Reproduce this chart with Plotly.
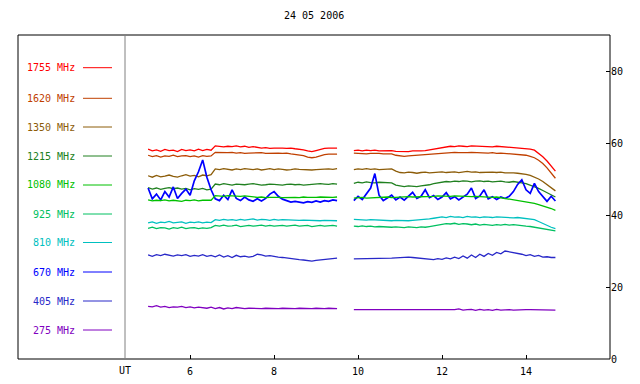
import plotly.graph_objects as go

TITLE = "24 05 2006"
FREQ_LABELS = ["1755 MHz", "1620 MHz", "1350 MHz", "1215 MHz", "1080 MHz",
               "925 MHz", "810 MHz", "670 MHz", "405 MHz", "275 MHz"]
COLORS = ["#ff0000", "#c04000", "#8c5c08", "#208020", "#00c000",
          "#00c060", "#00c0c0", "#0000ff", "#2828c8", "#8000c0"]

SEG1_START = 5.0
SEG2_START = 9.9
STEP = 0.1

# segment 1 (5.0 .. 9.5 UT), segment 2 (9.9 .. 14.7 UT)
f1755_a = [58.3, 57.8, 58.1, 57.7, 58.2, 57.9, 58.0, 57.6, 58.2, 57.9, 58.1, 57.8, 58.3, 57.9, 58.2, 58.0,
           59.2, 59.0, 58.9, 59.1, 59.0, 59.2, 58.9, 59.1, 58.8, 59.0, 58.7, 58.6, 58.7, 58.5, 58.6, 58.7,
           58.6, 58.5, 58.6, 58.4, 58.3, 58.1, 57.8, 57.6, 57.9, 58.3, 58.5, 58.6, 58.5, 58.6]
f1755_b = [57.9, 58.0, 57.8, 58.0, 57.9, 58.0, 57.8, 57.9, 58.0, 57.9, 57.7, 57.6, 57.7, 57.6, 57.8, 57.7,
           57.8, 57.9, 58.1, 58.3, 58.5, 58.7, 58.9, 59.1, 59.0, 59.2, 59.1, 59.0, 59.2, 59.1, 59.0, 59.1,
           59.0, 58.9, 59.1, 59.0, 58.9, 59.0, 58.9, 58.8, 58.7, 58.6, 58.3, 58.0, 57.2, 56.2, 55.0, 53.5, 52.2]

f1620_a = [56.6, 56.2, 56.5, 56.1, 56.4, 56.3, 56.6, 56.2, 56.4, 56.5, 56.2, 56.4, 56.1, 56.5, 56.3, 56.4,
           57.4, 57.3, 57.2, 57.3, 57.4, 57.2, 57.3, 57.1, 57.2, 57.3, 57.2, 57.3, 57.1, 57.2, 57.3, 57.2,
           57.1, 57.2, 57.0, 56.9, 56.7, 56.5, 56.1, 55.9, 56.1, 56.5, 56.8, 56.9, 57.0, 56.9]
f1620_b = [57.2, 57.1, 57.2, 57.0, 57.1, 57.2, 57.1, 57.0, 57.1, 57.0,
           56.6, 56.4, 56.3, 56.4, 56.5, 56.4, 56.5, 56.6, 56.7,
           56.9, 57.0, 57.2,
           57.3, 57.2, 57.4, 57.3, 57.2, 57.3, 57.4, 57.3, 57.2, 57.3,
           57.2, 57.3, 57.1, 57.2, 57.1, 57.0, 57.1, 56.9, 56.8,
           56.6, 56.3, 55.9, 55.2, 54.3, 53.1, 51.7, 50.2]

f1350_a = [50.9, 50.5, 51.0, 50.6, 50.8, 51.1, 50.7, 50.5, 50.9, 51.2, 50.8, 51.0, 50.6, 51.1, 50.9, 51.2,
           52.8, 52.6, 52.9, 52.7, 52.5, 52.8, 52.6, 52.9, 52.7, 52.6, 52.8, 52.5, 52.7, 52.9, 52.6, 52.8,
           52.7, 52.5, 52.6, 52.8, 52.7, 52.6, 52.4, 52.5, 52.6, 52.7, 52.9, 52.8, 52.7, 52.9]
f1350_b = [52.6, 52.8, 52.7, 52.9, 52.7, 52.8, 52.6, 52.7, 52.9, 52.8,
           52.2, 51.8, 51.7, 51.9, 51.8, 51.6, 51.8, 51.9, 51.7, 51.8, 51.9, 52.0, 51.8, 51.9, 52.0, 51.8,
           51.9, 52.1, 51.9, 52.0, 51.8, 51.9, 52.0, 51.9, 51.8, 51.9, 51.7, 51.8, 51.7, 51.6, 51.5,
           51.3, 51.0, 50.6, 50.0, 49.3, 48.5, 47.6, 46.7]

f1215_a = [47.6, 47.2, 47.5, 47.1, 47.4, 47.6, 47.3, 47.5, 47.2, 47.4, 47.0, 47.3, 47.1, 47.4, 47.0, 47.2,
           48.6, 48.4, 48.7, 48.5, 48.3, 48.6, 48.5, 48.4, 48.6, 48.7, 48.5, 48.3, 48.4, 48.6, 48.5, 48.4,
           48.3, 48.5, 48.6, 48.4, 48.5, 48.3, 48.4, 48.6, 48.5, 48.7, 48.6, 48.5, 48.7, 48.6]
f1215_b = [48.8, 49.1, 48.9, 49.2, 49.0, 48.9, 49.1, 49.0, 48.8, 48.9,
           48.3, 48.0, 47.9, 48.1, 48.0, 47.9, 48.1, 48.2, 48.4,
           48.7, 48.9, 49.1, 49.3, 49.2, 49.4, 49.3, 49.5, 49.4, 49.2, 49.4, 49.5, 49.3, 49.4, 49.2, 49.3,
           49.4, 49.2, 49.1, 49.3, 49.0, 48.9,
           48.7, 48.3, 47.9, 47.4, 46.8, 46.2, 45.6, 45.0]

f1080_a = [44.2, 43.9, 44.1, 44.0, 44.2, 43.9, 44.1, 44.0, 43.8, 44.1, 44.0, 44.2, 43.9, 44.1, 44.0, 44.1,
           45.4, 45.3, 45.2, 45.4, 45.3, 45.1, 45.2, 45.3, 45.1, 45.0, 44.9, 45.0, 44.8, 44.9, 45.0, 44.9,
           44.8, 44.9, 45.0, 44.9, 44.8, 45.0, 44.9, 44.8, 44.9, 45.0, 44.9, 45.0, 44.9, 45.0]
f1080_b = [44.7, 44.8, 44.9, 44.7, 44.8, 44.9, 44.8, 44.9, 45.0, 44.8, 44.9, 45.0, 44.9, 45.1, 45.0, 45.0,
           45.1, 45.2, 45.1, 45.2, 45.3, 45.2, 45.3, 45.2, 45.3, 45.2, 45.3, 45.2, 45.1, 45.2, 45.1, 45.0,
           45.1, 44.9, 45.0, 44.8, 44.7, 44.6,
           44.4, 44.2, 44.0, 43.7, 43.5, 43.2, 42.9, 42.6, 42.2, 41.8, 41.3]

f925_a = [36.3, 36.6, 36.2, 36.5, 36.4, 36.1, 36.5, 36.3, 36.6, 36.2, 36.4, 36.5, 36.2, 36.4, 36.3, 36.5,
          37.1, 36.9, 37.2, 36.9, 37.0, 37.2, 36.8, 37.0, 37.1, 36.9, 37.0, 37.2, 36.9, 37.1, 36.9, 37.0,
          37.1, 36.9, 37.0, 37.2, 36.9, 37.0, 37.1, 36.8, 37.0, 37.1, 36.9, 37.0, 37.1, 36.9]
f925_b = [36.9, 36.8, 37.0, 36.8, 36.9, 36.7, 36.8, 36.7, 36.8, 36.6,
          36.7, 36.6, 36.5, 36.7, 36.6, 36.5, 36.7, 36.6, 36.8, 37.0,
          37.2, 37.4, 37.6, 37.5, 37.7, 37.4, 37.6, 37.5, 37.3, 37.5,
          37.2, 37.4, 37.3, 37.1, 37.3, 37.2, 37.4, 37.2, 37.3, 37.1,
          37.0, 36.9, 36.8, 36.6, 36.5, 36.3, 36.0, 35.8, 35.6]

f810_a = [37.8, 38.1, 37.7, 38.0, 37.9, 38.2, 37.8, 37.9, 38.1, 37.7, 38.0, 37.9, 38.1, 37.8, 38.0, 37.9,
          38.7, 38.5, 38.8, 38.6, 38.7, 38.5, 38.8, 38.6, 38.7, 38.9, 38.6, 38.8, 38.7, 38.5, 38.8, 38.6,
          38.7, 38.6, 38.5, 38.6, 38.5, 38.6, 38.5, 38.4, 38.5, 38.4, 38.5, 38.4, 38.5, 38.4]
f810_b = [38.8, 38.7, 38.8, 38.6, 38.7, 38.6, 38.5, 38.6, 38.5, 38.4,
          38.5, 38.4, 38.5, 38.4, 38.5, 38.6, 38.5, 38.7, 38.9, 39.1,
          39.3, 39.5, 39.3, 39.6, 39.4, 39.5, 39.3, 39.6, 39.4, 39.5,
          39.3, 39.5, 39.4, 39.3, 39.5, 39.4, 39.3, 39.4, 39.2, 39.3,
          39.1, 39.0, 38.8, 38.7, 38.2, 37.6, 37.0, 36.6, 36.2]

f670_a = [47.5, 44.5, 45.8, 44.2, 46.5, 45.0, 47.8, 44.6, 46.0, 47.2, 45.5, 49.5, 52.0, 55.3, 50.5, 47.0,
          44.5, 44.0, 45.5, 44.3, 47.0, 44.6, 44.0, 45.0, 44.2, 43.8, 44.5, 43.9, 44.6, 45.8, 46.5, 45.2,
          44.4, 44.0, 43.6, 43.8, 43.5, 43.4, 43.7, 43.5, 43.9, 43.6, 44.0, 43.8, 44.2, 44.0]
f670_b = [44.0, 45.2, 44.3, 45.8, 47.5, 51.5, 45.5, 44.0, 44.8, 45.5,
          44.2, 45.0, 44.1, 45.3, 46.3, 44.6, 45.2, 47.0, 44.8, 45.4,
          44.3, 45.0, 46.2, 44.5, 45.1, 44.2, 45.0, 45.8, 47.5, 44.6,
          45.3, 47.0, 44.5, 45.1, 44.3, 45.0, 44.6, 45.2, 46.5, 48.5,
          49.8, 47.0, 46.0, 48.8, 46.5, 45.0, 43.8, 45.2, 43.9]

f405_a = [28.9, 28.5, 29.0, 28.7, 29.1, 28.8, 28.6, 28.9, 28.7, 29.0, 28.5, 28.8, 28.6, 29.0, 28.5, 28.8,
          28.4, 28.9, 28.3, 28.7, 28.2, 28.8, 28.4, 28.6, 28.3, 28.5,
          29.1, 28.9, 28.6, 28.7, 28.4, 28.3, 28.2,
          28.0, 27.8, 27.7, 27.6, 27.5, 27.3, 27.2, 27.4, 27.5, 27.7, 27.8, 27.9, 28.0]
f405_b = [27.8, 27.8, 27.9, 27.8, 27.9, 27.9, 28.0, 27.9, 28.0, 28.0,
          28.1, 28.2, 28.1, 28.3, 28.2, 28.1, 27.9, 27.7, 27.8, 27.6,
          27.9, 27.7, 28.1, 27.8, 28.3, 27.9, 28.6, 28.0, 28.9, 28.2,
          29.1, 28.5, 29.3, 28.8, 29.6, 29.2, 30.0, 29.8, 29.6, 29.4,
          29.1, 28.7, 29.0, 28.5, 28.8, 28.3, 28.4, 28.2, 28.2]

f275_a = [14.6, 14.5, 14.8, 14.4, 14.6, 14.3, 14.5, 14.4, 14.6, 14.3, 14.5, 14.2, 14.4, 14.3, 14.1, 14.4,
          14.0, 14.3, 13.9, 14.2, 14.0, 14.3, 14.1, 14.0, 14.1, 14.0,
          14.1, 14.0, 14.1, 14.0, 14.1, 14.0, 14.1, 14.0, 13.9, 14.0, 14.1, 14.0, 13.9, 14.0, 14.1, 14.0,
          14.0, 14.1, 14.0, 14.0]
f275_b = [13.7, 13.7, 13.8, 13.7, 13.7, 13.7, 13.7, 13.8, 13.7, 13.7,
          13.7, 13.7, 13.7, 13.8, 13.7, 13.7, 13.7, 13.7, 13.8, 13.7,
          13.7, 13.7, 13.6, 13.8, 13.7, 13.9, 13.6, 13.7, 13.8, 13.5,
          13.8, 13.6, 13.7, 13.5, 13.8, 13.6, 13.7, 13.7, 13.6, 13.7,
          13.7, 13.7, 13.7, 13.7, 13.6, 13.7, 13.6, 13.5, 13.6]

SERIES = [(f1755_a, f1755_b), (f1620_a, f1620_b), (f1350_a, f1350_b), (f1215_a, f1215_b),
          (f1080_a, f1080_b), (f925_a, f925_b), (f810_a, f810_b), (f670_a, f670_b),
          (f405_a, f405_b), (f275_a, f275_b)]

X_TICKS = [6, 8, 10, 12, 14]
Y_TICKS = [0, 20, 40, 60, 80]

# ---------------- layout geometry ----------------
W, H = 640, 384
ML, MR, MT, MB = 18, 30, 35, 25
PW, PH = W - ML - MR, H - MT - MB
DIV_X = 125
DOM0 = (DIV_X - ML) / PW

FONT = "DejaVu Sans Mono"

fig = go.Figure()

draw_order = [0, 1, 2, 3, 7, 4, 5, 6, 8, 9]
for i in draw_order:
    a, b = SERIES[i]
    xa = [round(SEG1_START + STEP * k, 2) for k in range(len(a))]
    xb = [round(SEG2_START + STEP * k, 2) for k in range(len(b))]
    fig.add_trace(go.Scatter(
        x=xa + [None] + xb, y=a + [None] + b, mode="lines",
        line=dict(color=COLORS[i], width=1.7 if i == 7 else 1.3),
        showlegend=False, hoverinfo="skip"))

shapes = []
annotations = []
# outer frame
shapes.append(dict(type="rect", xref="paper", yref="paper", x0=0, x1=1, y0=0, y1=1,
                   line=dict(color="black", width=1)))
# divider
shapes.append(dict(type="line", xref="paper", yref="paper", x0=DOM0, x1=DOM0, y0=0, y1=1,
                   line=dict(color="#808080", width=1)))

LEG_Y = [67.7, 98.3, 127, 156, 185, 214, 242.5, 272, 301, 330]
for lbl, col, py in zip(FREQ_LABELS, COLORS, LEG_Y):
    yp = (H - MB - py) / PH
    annotations.append(dict(text=lbl, xref="paper", yref="paper", x=(77 - ML) / PW, y=yp,
                            xanchor="right", yanchor="middle", showarrow=False,
                            font=dict(family=FONT, size=10, color=col)))
    shapes.append(dict(type="line", xref="paper", yref="paper",
                       x0=(83 - ML) / PW, x1=(112 - ML) / PW, y0=yp, y1=yp,
                       line=dict(color=col, width=1)))

annotations.append(dict(text=TITLE, xref="paper", yref="paper", x=0.5, y=(H - MB - 16) / PH,
                        xanchor="center", yanchor="middle", showarrow=False,
                        font=dict(family=FONT, size=10, color="black")))
annotations.append(dict(text="UT", xref="paper", yref="paper", x=DOM0, y=(H - MB - 370) / PH,
                        xanchor="center", yanchor="middle", showarrow=False,
                        font=dict(family=FONT, size=10, color="black")))

fig.update_layout(
    width=W, height=H, margin=dict(l=ML, r=MR, t=MT, b=MB, autoexpand=False),
    paper_bgcolor="white", plot_bgcolor="white",
    font=dict(family=FONT, size=10, color="black"),
    shapes=shapes, annotations=annotations, showlegend=False,
    xaxis=dict(domain=[DOM0, 1], range=[4.45, 16.0], tickvals=X_TICKS,
               ticks="inside", ticklen=4, tickcolor="black", showgrid=False,
               zeroline=False, showline=False, ticklabelstandoff=5, automargin=False,
               tickfont=dict(family=FONT, size=10)),
    yaxis=dict(range=[0, 90], tickvals=Y_TICKS, side="right", ticks="inside", ticklen=4,
               tickcolor="black", showgrid=False, zeroline=False, showline=False,
               automargin=False, tickfont=dict(family=FONT, size=10)),
)

fig.write_html("out.html", config={"displayModeBar": False},
               post_script="document.body.style.margin='0';document.body.style.overflow='hidden';")
